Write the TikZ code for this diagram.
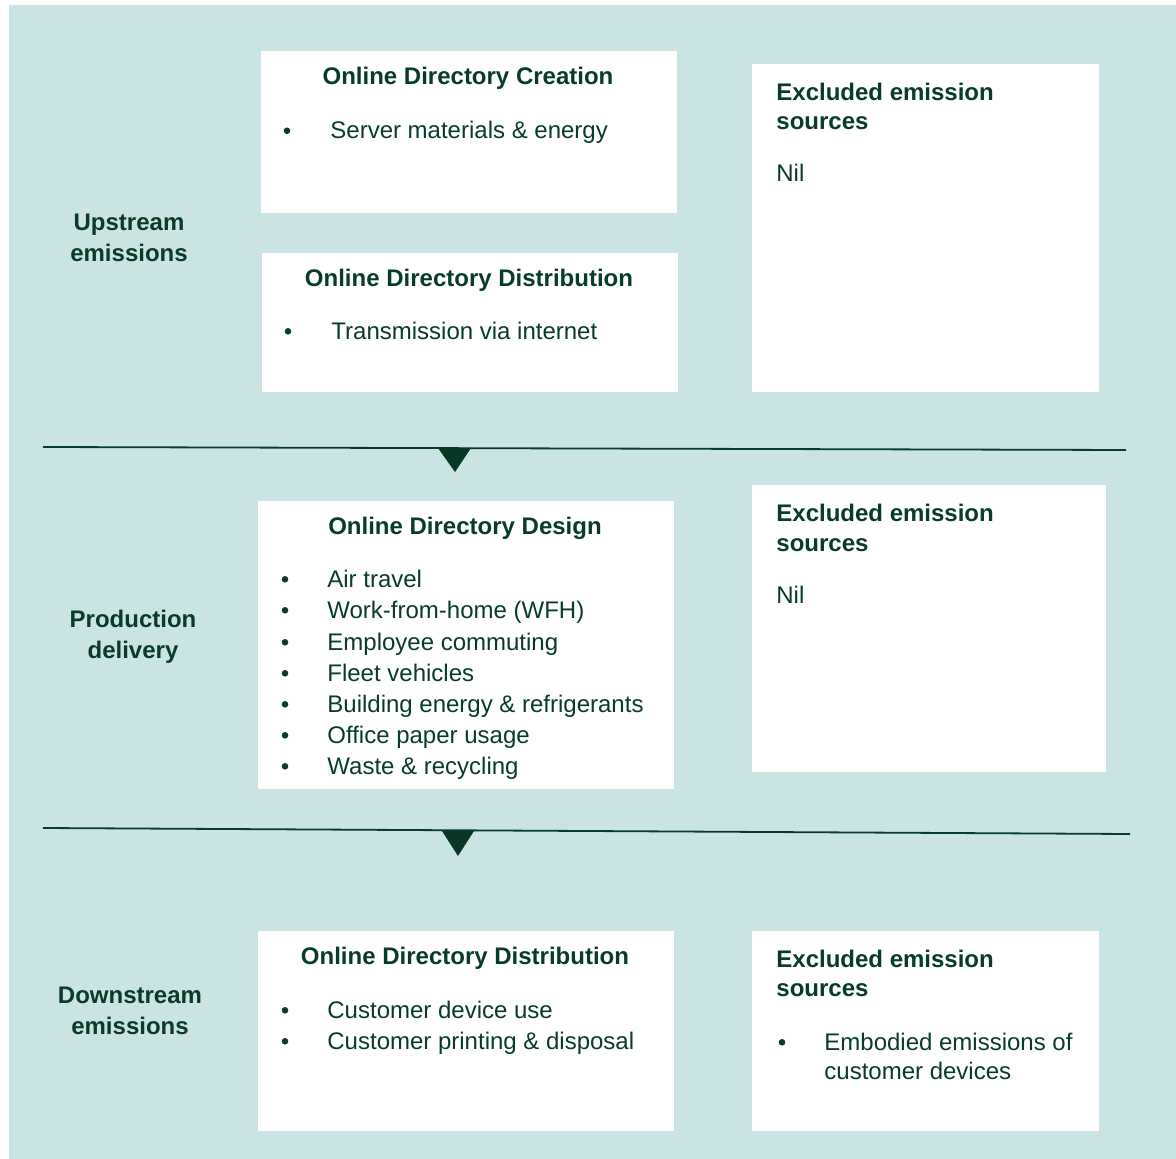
\documentclass[tikz,border=0pt]{standalone}
\usepackage{fontspec}
\setmainfont{Liberation Sans}
\usetikzlibrary{fit}
\definecolor{bgc}{RGB}{202,228,228}
\definecolor{dg}{RGB}{9,60,40}
\definecolor{tri}{RGB}{7,56,38}
\tikzset{
  box/.style={fill=white, draw=none, inner sep=0pt},
  txt/.style={anchor=base west, inner sep=0pt, text=dg, font=\fontsize{12}{14}\selectfont},
  btxt/.style={anchor=base west, inner sep=0pt, text=dg, font=\fontsize{12}{14}\selectfont\bfseries},
  ctitle/.style={anchor=base, inner sep=0pt, text=dg, font=\fontsize{12}{14}\selectfont\bfseries},
  bul/.style={circle, fill=dg, draw=none, inner sep=0pt, minimum size=3.3pt, yshift=4.1pt},
  sep/.style={draw=dg, line width=0.9pt},
  arrowtri/.style={fill=tri}
}
\begin{document}
\begin{tikzpicture}[x=0.5pt,y=-0.5pt]
\useasboundingbox (0,0) rectangle (1176,1159);
\fill[bgc] (9,5) rectangle (1176,1159);

% boxes
\node[box, fit={(261,51) (677,213)}] (b1) {};
\node[box, fit={(262,253) (678,392)}] (b2) {};
\node[box, fit={(752,64) (1099,392)}] (e1) {};
\node[box, fit={(258,501) (674,789)}] (b3) {};
\node[box, fit={(752,485) (1106,772)}] (e2) {};
\node[box, fit={(258,931) (674,1131)}] (b4) {};
\node[box, fit={(752,931) (1099,1131)}] (e3) {};

% separators
\coordinate (s1a) at (43,447);
\coordinate (s1b) at (1126,450);
\draw[sep] (s1a) -- (s1b);
\fill[arrowtri] (438,448) -- (471,448) -- (455,472) -- cycle;
\coordinate (s2a) at (43,828);
\coordinate (s2b) at (1130,834);
\draw[sep] (s2a) -- (s2b);
\fill[arrowtri] (442,831) -- (474,831) -- (458,856) -- cycle;

% left labels
\node[ctitle] (u1) at (129,230.5) {Upstream};
\node[ctitle] (u2) at (129,261.5) {emissions};
\node[ctitle] (p1) at (133,627.5) {Production};
\node[ctitle] (p2) at (133,658.5) {delivery};
\node[ctitle] (d1) at (130,1003.5) {Downstream};
\node[ctitle] (d2) at (130,1034.5) {emissions};

% box 1
\node[ctitle] (t1) at (468,84.5) {Online Directory Creation};
\node[bul] (b1k1) at (287,139) {};
\node[txt] (b1l1) at (330,139) {Server materials \& energy};

% box 2
\node[ctitle] (t2) at (469,286.5) {Online Directory Distribution};
\node[bul] (b2k1) at (288,339.5) {};
\node[txt] (b2l1) at (331,339.5) {Transmission via internet};

% box 3
\node[ctitle] (t3) at (465,534.5) {Online Directory Design};
\node[bul] (b3k1) at (285,587.5) {};
\node[txt] (b3l1) at (327,587.5) {Air travel};
\node[bul] (b3k2) at (285,618.5) {};
\node[txt] (b3l2) at (327,618.5) {Work-from-home (WFH)};
\node[bul] (b3k3) at (285,650.5) {};
\node[txt] (b3l3) at (327,650.5) {Employee commuting};
\node[bul] (b3k4) at (285,681.5) {};
\node[txt] (b3l4) at (327,681.5) {Fleet vehicles};
\node[bul] (b3k5) at (285,712.5) {};
\node[txt] (b3l5) at (327,712.5) {Building energy \& refrigerants};
\node[bul] (b3k6) at (285,743.5) {};
\node[txt] (b3l6) at (327,743.5) {Office paper usage};
\node[bul] (b3k7) at (285,774.5) {};
\node[txt] (b3l7) at (327,774.5) {Waste \& recycling};

% box 4
\node[ctitle] (t4) at (465,964.5) {Online Directory Distribution};
\node[bul] (b4k1) at (285,1018.5) {};
\node[txt] (b4l1) at (327,1018.5) {Customer device use};
\node[bul] (b4k2) at (285,1049.5) {};
\node[txt] (b4l2) at (327,1049.5) {Customer printing \& disposal};

% excluded 1
\node[btxt] (e1t1) at (776,100.5) {Excluded emission};
\node[btxt] (e1t2) at (776,129.5) {sources};
\node[txt] (e1n) at (776,181.5) {Nil};

% excluded 2
\node[btxt] (e2t1) at (776,521.5) {Excluded emission};
\node[btxt] (e2t2) at (776,551.5) {sources};
\node[txt] (e2n) at (776,603.5) {Nil};

% excluded 3
\node[btxt] (e3t1) at (776,967.5) {Excluded emission};
\node[btxt] (e3t2) at (776,996.5) {sources};
\node[bul] (e3k1) at (782,1050.5) {};
\node[txt] (e3l1) at (824,1050.5) {Embodied emissions of};
\node[txt] (e3l2) at (824,1079.5) {customer devices};
\end{tikzpicture}
\end{document}
